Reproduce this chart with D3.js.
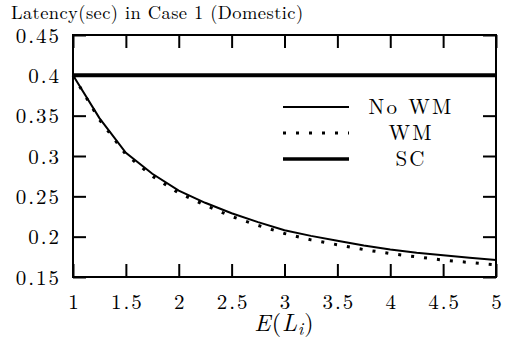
<!DOCTYPE html>
<html>
<head>
<meta charset="utf-8">
<script src="https://cdn.jsdelivr.net/npm/d3@7"></script>
<style>
  body { margin: 0; background: #fff; }
</style>
</head>
<body>
<div id="chart"></div>
<script>
// values
const xs = [1, 1.25, 1.5, 1.75, 2, 2.25, 2.5, 2.75, 3, 3.25, 3.5, 3.75, 4, 4.25, 4.5, 4.75, 5];
const noWM = [0.400, 0.347, 0.304, 0.278, 0.257, 0.242, 0.229, 0.218, 0.208, 0.201, 0.195, 0.189, 0.184, 0.180, 0.177, 0.174, 0.171];
const wm = [0.400, 0.345, 0.302, 0.275, 0.254, 0.239, 0.225, 0.214, 0.204, 0.196, 0.190, 0.184, 0.179, 0.175, 0.171, 0.168, 0.165];
const sc = [0.4, 0.4, 0.4, 0.4, 0.4, 0.4, 0.4, 0.4, 0.4, 0.4, 0.4, 0.4, 0.4, 0.4, 0.4, 0.4, 0.4];
const xTicks = [1, 1.5, 2, 2.5, 3, 3.5, 4, 4.5, 5];
const yTicks = [0.15, 0.2, 0.25, 0.3, 0.35, 0.4, 0.45];
const seriesNames = ["No WM", "WM", "SC"];

const FONT = '"Latin Modern Roman"';

const W = 505, H = 354;
const margin = { top: 35, right: 9, bottom: 77, left: 73 },
    width = W - margin.left - margin.right,
    height = H - margin.top - margin.bottom;

const svg = d3.select("#chart")
    .append("svg")
    .attr("width", W)
    .attr("height", H);

const g = svg.append("g")
    .attr("transform", `translate(${margin.left},${margin.top})`);

const x = d3.scaleLinear().domain([1, 5]).range([0, width]);
const y = d3.scaleLinear().domain([0.15, 0.45]).range([height, 0]);

const fmt = d => String(d);

// bottom axis (ticks inward)
const xb = g.append("g")
    .attr("transform", `translate(0,${height})`)
    .call(d3.axisBottom(x).tickValues(xTicks).tickFormat(fmt).tickSizeInner(-13).tickPadding(17));
// top mirror ticks
const xt = g.append("g")
    .call(d3.axisTop(x).tickValues(xTicks).tickFormat("").tickSizeInner(-13));
// left axis
const yl = g.append("g")
    .call(d3.axisLeft(y).tickValues(yTicks).tickFormat(fmt).tickSizeInner(-13).tickPadding(12));
// right mirror ticks
const yr = g.append("g")
    .attr("transform", `translate(${width},0)`)
    .call(d3.axisRight(y).tickValues(yTicks).tickFormat("").tickSizeInner(-13));

[xb, xt, yl, yr].forEach(a => {
    a.select(".domain").remove();
    a.selectAll("line").attr("stroke", "#000").attr("stroke-width", 2);
    a.selectAll("text")
        .attr("fill", "#000")
        .style("font-family", FONT)
        .style("font-size", "21px")
        .style("letter-spacing", "2px");
});
xb.selectAll("text").attr("dy", "0.71em").attr("dx", 1);
yl.selectAll("text").attr("dy", "0.34em");

// frame
g.append("rect")
    .attr("width", width)
    .attr("height", height)
    .attr("fill", "none")
    .attr("stroke", "#000")
    .attr("stroke-width", 2);

const line = d3.line()
    .x((d, i) => x(xs[i]))
    .y(d => y(d));

g.append("path")
    .datum(noWM)
    .attr("d", line)
    .attr("fill", "none")
    .attr("stroke", "#000")
    .attr("stroke-width", 2);

g.append("path")
    .datum(wm)
    .attr("d", line)
    .attr("fill", "none")
    .attr("stroke", "#000")
    .attr("stroke-width", 3)
    .attr("stroke-dasharray", "3,10");

g.append("path")
    .datum(sc)
    .attr("d", line)
    .attr("fill", "none")
    .attr("stroke", "#000")
    .attr("stroke-width", 4);

// legend
const legStyles = [
    { w: 2, dash: null },
    { w: 3, dash: "3,10" },
    { w: 3.5, dash: null }
];
const leg = svg.append("g");
seriesNames.forEach((name, i) => {
    const yy = 107 + i * 26;
    leg.append("line")
        .attr("x1", 283).attr("x2", 349)
        .attr("y1", yy).attr("y2", yy)
        .attr("stroke", "#000")
        .attr("stroke-width", legStyles[i].w)
        .attr("stroke-dasharray", legStyles[i].dash);
    leg.append("text")
        .attr("x", 411)
        .attr("y", yy)
        .attr("dy", "0.35em")
        .attr("text-anchor", "middle")
        .style("font-family", FONT)
        .style("font-size", "21px")
        .style("letter-spacing", "2.2px")
        .text(name);
});

// title
svg.append("text")
    .attr("x", 11)
    .attr("y", 19)
    .style("font-family", FONT)
    .style("font-size", "18.5px")
    .style("letter-spacing", "0.4px")
    .text("Latency(sec) in Case 1 (Domestic)");

// x axis label
const xl = svg.append("text")
    .attr("x", margin.left + width / 2)
    .attr("y", 331)
    .attr("text-anchor", "middle")
    .style("font-family", FONT)
    .style("font-size", "24px")
    .style("letter-spacing", "1px");
xl.append("tspan").style("font-style", "italic").text("E");
xl.append("tspan").text("(");
xl.append("tspan").style("font-style", "italic").text("L");
xl.append("tspan").style("font-style", "italic").style("font-size", "17px").attr("dy", 4).text("i");
xl.append("tspan").attr("dy", -4).text(")");
</script>
</body>
</html>
